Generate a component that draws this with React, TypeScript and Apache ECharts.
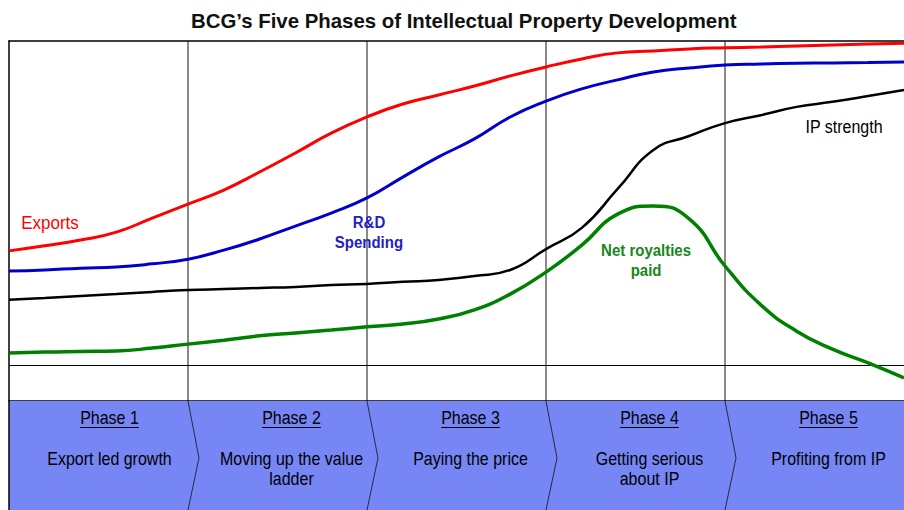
import React, { useEffect, useRef } from "react";
import * as echarts from "echarts";

// x positions in "phase units" (each phase spans 1 unit)
const xPositions = [0, 0.2, 0.4, 0.6, 0.8, 1, 1.2, 1.4, 1.6, 1.8, 2, 2.2, 2.4, 2.6, 2.8, 3, 3.2, 3.4, 3.6, 3.8, 4, 4.2, 4.4, 4.6, 4.8, 5];

const exportsIndex = [3.17, 3.31, 3.47, 3.69, 4.08, 4.47, 4.86, 5.36, 5.89, 6.44, 6.89, 7.25, 7.5, 7.75, 8.03, 8.28, 8.5, 8.67, 8.72, 8.78, 8.81, 8.83, 8.86, 8.89, 8.92, 8.94];
const rdSpending = [2.61, 2.64, 2.69, 2.72, 2.81, 2.94, 3.19, 3.5, 3.86, 4.22, 4.64, 5.22, 5.78, 6.28, 6.89, 7.33, 7.67, 7.92, 8.14, 8.25, 8.33, 8.36, 8.38, 8.39, 8.4, 8.42];
const ipStrength = [1.81, 1.86, 1.92, 1.97, 2.03, 2.08, 2.11, 2.14, 2.17, 2.22, 2.25, 2.31, 2.36, 2.47, 2.64, 3.22, 3.81, 4.89, 5.97, 6.36, 6.72, 6.94, 7.17, 7.31, 7.47, 7.64];
const netRoyalties = [0.33, 0.36, 0.375, 0.39, 0.47, 0.58, 0.69, 0.81, 0.89, 0.97, 1.06, 1.14, 1.28, 1.53, 1.97, 2.58, 3.33, 4.19, 4.42, 4.06, 2.75, 1.67, 0.94, 0.44, 0.06, -0.36];

const phaseTitles = ["Phase 1", "Phase 2", "Phase 3", "Phase 4", "Phase 5"];
const phaseDescriptions = [
  "Export led growth",
  "Moving up the value\nladder",
  "Paying the price",
  "Getting serious\nabout IP",
  "Profiting from IP",
];
const phaseBoundaries = [1, 2, 3, 4];

const curveLabelTexts = ["Exports", "R&D\nSpending", "Net royalties\npaid", "IP strength"];
const curveLabelX = [0.229, 2.011, 3.559, 4.665];
const curveLabelY = [3.94, 3.69, 2.92, 6.61];
const curveLabelColors = ["#ff0000", "#1f1fc4", "#16871a", "#000000"];
const curveLabelBold = [false, true, true, false];

const FONT = "'Liberation Sans', Arial, sans-serif";

function measure(text: string, font: string): number {
  const c = document.createElement("canvas").getContext("2d");
  if (!c) return text.length * 8;
  c.font = font;
  return c.measureText(text).width;
}

export default function App() {
  const ref = useRef<HTMLDivElement>(null);
  useEffect(() => {
    if (!ref.current) return;
    const chart = echarts.init(ref.current, undefined, { renderer: "svg" });
    const pairs = (vals: number[]) => vals.map((v, i) => [xPositions[i], v]);
    const BAND_H = 109;
    const SY = 1.15;
    const LH = 17.4;

    const lineSeries = (name: string, vals: number[], color: string, width: number) => ({
      name,
      type: "line",
      data: pairs(vals),
      showSymbol: false,
      smooth: 0.5,
      lineStyle: { color, width },
      z: 5,
      silent: true,
    });

    chart.setOption({
      animation: false,
      backgroundColor: "#ffffff",
      title: {
        text: "BCG\u2019s Five Phases of Intellectual Property Development",
        left: 186,
        top: 6,
        textStyle: { fontFamily: FONT, fontSize: 20.4, fontWeight: "bold", color: "#111" },
      },
      grid: { left: 9, right: 0, top: 41, bottom: BAND_H },
      xAxis: [
        {
          type: "value",
          min: 0,
          max: 5,
          interval: 1,
          axisLine: { show: true, onZero: false, lineStyle: { color: "#000", width: 1.5 } },
          axisTick: { show: false },
          axisLabel: { show: false },
          splitLine: {
            show: true,
            showMinLine: false,
            showMaxLine: false,
            lineStyle: { color: "#8a8a8a", width: 2 },
          },
        },
        {
          type: "value",
          position: "top",
          min: 0,
          max: 5,
          axisLine: { show: true, onZero: false, lineStyle: { color: "#000", width: 1.5 } },
          axisTick: { show: false },
          axisLabel: { show: false },
          splitLine: { show: false },
        },
      ],
      yAxis: {
        type: "value",
        min: -1,
        max: 9,
        axisLine: { show: true, onZero: false, lineStyle: { color: "#000", width: 1.5 } },
        axisTick: { show: false },
        axisLabel: { show: false },
        splitLine: { show: false },
      },
      series: [
        {
          type: "custom",
          name: "band",
          coordinateSystem: "cartesian2d",
          clip: false,
          silent: true,
          z: 1,
          data: phaseTitles.map((_, i) => [i, 0]),
          renderItem: (params: any, api: any) => {
            const i = api.value(0);
            const p0 = api.coord([i, -1]);
            const p1 = api.coord([i + 1, -1]);
            const y0 = p0[1];
            const cx = (p0[0] + p1[0]) / 2 + (i === 0 ? 11 : 14);
            const title = phaseTitles[i];
            const tFont = `16px ${FONT}`;
            const tw = measure(title, tFont);
            const children: any[] = [
              {
                type: "rect",
                shape: { x: p0[0], y: y0, width: p1[0] - p0[0] + 0.5, height: BAND_H },
                style: { fill: "#7686f5" },
              },
              {
                type: "text",
                x: cx,
                y: y0 + 17,
                scaleY: SY,
                style: {
                  text: title,
                  fontFamily: FONT,
                  fontSize: 16,
                  fill: "#000",
                  align: "center",
                  verticalAlign: "middle",
                },
              },
              {
                type: "line",
                shape: { x1: cx - tw / 2, y1: y0 + 26.5, x2: cx + tw / 2, y2: y0 + 26.5 },
                style: { stroke: "#000", lineWidth: 1 },
              },
              {
                type: "text",
                x: cx,
                y: y0 + 58 - (LH * SY) / 2,
                scaleY: SY,
                style: {
                  text: phaseDescriptions[i],
                  fontFamily: FONT,
                  fontSize: 16,
                  lineHeight: LH,
                  fill: "#000",
                  align: "center",
                  verticalAlign: "top",
                },
              },
            ];
            if (i === 0) {
              children.push({
                type: "line",
                shape: { x1: p0[0], y1: y0, x2: p0[0], y2: y0 + BAND_H },
                style: { stroke: "#000", lineWidth: 1.5 },
              });
            }
            return { type: "group", children };
          },
        },
        {
          type: "custom",
          name: "chevrons",
          coordinateSystem: "cartesian2d",
          clip: false,
          silent: true,
          z: 2,
          data: phaseBoundaries.map((b) => [b, 0]),
          renderItem: (params: any, api: any) => {
            const p = api.coord([api.value(0), -1]);
            return {
              type: "polyline",
              shape: {
                points: [
                  [p[0], p[1]],
                  [p[0] + 11, p[1] + 57],
                  [p[0], p[1] + BAND_H],
                ],
              },
              style: { stroke: "#2a2a3a", lineWidth: 1, fill: null },
            };
          },
        },
        lineSeries("Exports", exportsIndex, "#ff0000", 3),
        lineSeries("R&D Spending", rdSpending, "#0000cc", 3),
        lineSeries("IP strength", ipStrength, "#000000", 2.5),
        {
          ...lineSeries("Net royalties paid", netRoyalties, "#008000", 3.5),
          markLine: {
            silent: true,
            symbol: "none",
            label: { show: false },
            lineStyle: { color: "#000", width: 1, type: "solid" },
            data: [{ yAxis: 0 }],
            z: 4,
          },
        },
        {
          type: "custom",
          name: "labels",
          coordinateSystem: "cartesian2d",
          clip: false,
          silent: true,
          z: 6,
          data: curveLabelTexts.map((_, i) => [curveLabelX[i], curveLabelY[i], i]),
          renderItem: (params: any, api: any) => {
            const idx = api.value(2);
            const p = api.coord([api.value(0), api.value(1)]);
            const bold = curveLabelBold[idx];
            return {
              type: "text",
              x: p[0],
              y: p[1],
              scaleY: 1.12,
              style: {
                text: curveLabelTexts[idx],
                fontFamily: FONT,
                fontSize: bold ? 15 : idx === 0 ? 17 : 16,
                fontWeight: bold ? "bold" : "normal",
                lineHeight: 18,
                fill: curveLabelColors[idx],
                align: "center",
                verticalAlign: "middle",
              },
            };
          },
        },
      ],
    });
    return () => chart.dispose();
  }, []);
  return (
    <div
      ref={ref}
      style={{ position: "fixed", left: 0, top: 0, width: 904, height: 510, background: "#fff" }}
    />
  );
}
